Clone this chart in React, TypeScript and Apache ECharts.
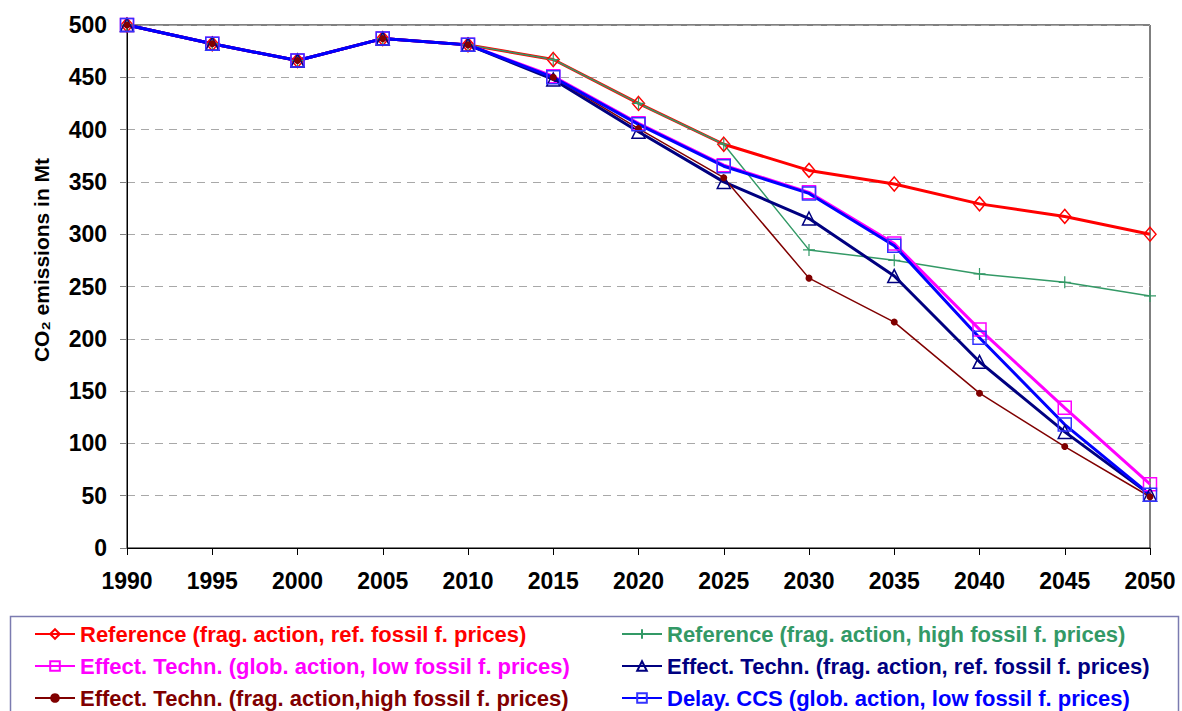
import React, { useEffect, useRef } from "react";
import * as echarts from "echarts";

const years = ["1990", "1995", "2000", "2005", "2010", "2015", "2020", "2025", "2030", "2035", "2040", "2045", "2050"];
const refFragRef = [500, 482, 466, 487, 481, 467, 425, 386, 361, 348, 329, 317, 300];
const refFragHigh = [500, 482, 466, 487, 481, 467, 425, 386, 285, 275, 262, 254, 241];
const effGlobLow = [500, 482, 466, 487, 481, 451, 406, 366, 340, 291, 209, 134, 61];
const effFragRef = [500, 482, 466, 487, 481, 448, 398, 350, 315, 260, 178, 111, 51];
const effFragHigh = [500, 482, 466, 487, 481, 450, 401, 354, 258, 216, 148, 97, 49];
const delayCCS = [500, 482, 466, 487, 481, 450, 405, 365, 339, 289, 201, 118, 51];

const names = [
  "Reference (frag. action, ref. fossil f. prices)",
  "Reference (frag. action, high fossil f. prices)",
  "Effect. Techn. (glob. action, low fossil f. prices)",
  "Effect. Techn. (frag. action, ref. fossil f. prices)",
  "Effect. Techn. (frag. action,high fossil f. prices)",
  "Delay. CCS (glob. action, low fossil f. prices)",
];
const colors = ["#ff0000", "#339966", "#ff00ff", "#000080", "#800000", "#0000ff"];

const FONT = "Liberation Sans, Arial, sans-serif";

export default function App() {
  const ref = useRef<HTMLDivElement>(null);
  useEffect(() => {
    if (!ref.current) return;
    const chart = echarts.init(ref.current, undefined, { renderer: "svg" });
    const hollow = (c: string) => ({ color: "transparent", borderColor: c, borderWidth: 1.5 });
    const series: any[] = [
      {
        name: names[0], type: "line", data: refFragRef, symbol: "diamond", symbolSize: [12, 14],
        lineStyle: { color: colors[0], width: 3 }, itemStyle: hollow(colors[0]),
      },
      {
        name: names[1], type: "line", data: refFragHigh, symbol: "path://M0,6L12,6M6,0L6,12", symbolSize: 12,
        lineStyle: { color: colors[1], width: 1.5 }, itemStyle: { color: "transparent", borderColor: colors[1], borderWidth: 1.2 },
      },
      {
        name: names[2], type: "line", data: effGlobLow, symbol: "rect", symbolSize: 13,
        lineStyle: { color: colors[2], width: 3 }, itemStyle: hollow(colors[2]),
      },
      {
        name: names[3], type: "line", data: effFragRef, symbol: "triangle", symbolSize: 13,
        lineStyle: { color: colors[3], width: 3 }, itemStyle: hollow(colors[3]),
      },
      {
        name: names[4], type: "line", data: effFragHigh, symbol: "circle", symbolSize: 7,
        lineStyle: { color: colors[4], width: 1.5 }, itemStyle: { color: colors[4] },
      },
      {
        name: names[5], type: "line", data: delayCCS, symbol: "rect", symbolSize: 13,
        lineStyle: { color: colors[5], width: 3 }, itemStyle: hollow("#3333ff"),
      },
    ];
    const legendPos = [
      [34, 623], [621, 623],
      [34, 655], [621, 655],
      [34, 687], [621, 687],
    ];
    const legends = names.map((n, i) => ({
      show: true,
      data: [{ name: n, textStyle: { color: colors[i] } }],
      left: legendPos[i][0],
      top: legendPos[i][1],
      padding: 0,
      itemWidth: 40,
      itemHeight: 12,
      selectedMode: false,
      textStyle: { fontSize: 22, fontWeight: "bold", fontFamily: FONT },
    }));
    chart.setOption({
      animation: false,
      backgroundColor: "#ffffff",
      grid: { left: 127, right: 32, top: 25, bottom: 163, show: true, borderColor: "#000", borderWidth: 1 },
      legend: legends,
      xAxis: {
        type: "category",
        data: years,
        boundaryGap: false,
        axisLine: { lineStyle: { color: "#000", width: 1 } },
        axisTick: { show: true, length: 7, lineStyle: { color: "#000" } },
        axisLabel: { fontSize: 23, fontWeight: "bold", color: "#000", fontFamily: FONT, margin: 21 },
      },
      yAxis: {
        type: "value",
        min: 0,
        max: 500,
        interval: 50,
        axisLine: { show: true, lineStyle: { color: "#000", width: 1 } },
        axisTick: { show: true, length: 7, lineStyle: { color: "#808080" } },
        axisLabel: { fontSize: 23, fontWeight: "bold", color: "#000", fontFamily: FONT, margin: 20 },
        splitLine: { show: true, lineStyle: { color: "#a8a8a8", type: [8, 6], width: 1 } },
      },
      graphic: [
        {
          type: "text",
          x: 41,
          y: 260,
          rotation: Math.PI / 2,
          style: {
            text: "CO₂ emissions in Mt",
            font: `bold 21px ${FONT}`,
            fill: "#000",
            align: "center",
            verticalAlign: "middle",
          },
        },
        {
          type: "rect",
          shape: { x: 10.5, y: 616.5, width: 1168, height: 120 },
          style: { fill: "none", stroke: "#7b7bb0", lineWidth: 1.5 },
        },
      ],
      series,
    });
    return () => chart.dispose();
  }, []);
  return <div ref={ref} style={{ position: "absolute", left: 0, top: 0, width: 1182, height: 711 }} />;
}
